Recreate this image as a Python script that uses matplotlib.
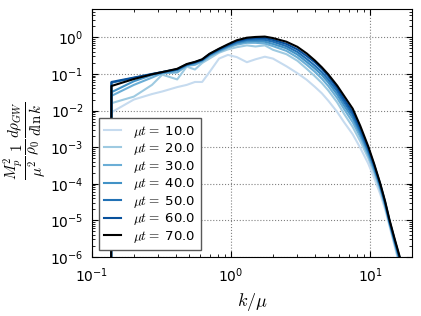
import numpy as np
import matplotlib
matplotlib.use("Agg")
import matplotlib.pyplot as plt

# k/mu sample points (first point duplicated: spectrum starts from zero there)
k = [0.137, 0.138, 0.2, 0.27, 0.32, 0.41, 0.48, 0.55, 0.62, 0.7, 0.82, 0.95, 1.1, 1.3,
     1.5, 1.75, 2.0, 2.5, 3.0, 3.5, 4.0, 4.5, 5.0, 5.8, 6.5, 7.5, 8.5, 9.7, 10.7, 11.8,
     12.8, 13.8, 15.0, 16.4, 18.0]

# log10 of the GW energy spectrum for each time
log_mt10 = [-9, -2.05, -1.70, -1.55, -1.48, -1.36, -1.30, -1.22, -1.22, -0.95, -0.58, -0.48, -0.54, -0.68,
            -0.60, -0.53, -0.58, -0.79, -0.98, -1.16, -1.35, -1.53, -1.73, -2.04, -2.32, -2.65, -3.02,
            -3.45, -3.84, -4.27, -4.69, -5.16, -5.70, -6.28, -6.96]
log_mt20 = [-9, -1.80, -1.62, -1.30, -1.02, -1.15, -0.80, -0.88, -0.70, -0.58, -0.42, -0.33, -0.27, -0.22,
            -0.25, -0.22, -0.34, -0.46, -0.64, -0.86, -1.06, -1.25, -1.45, -1.78, -2.09, -2.45, -2.84,
            -3.30, -3.71, -4.17, -4.62, -5.12, -5.65, -6.22, -6.90]
log_mt30 = [-9, -1.60, -1.30, -1.10, -0.98, -0.96, -0.78, -0.75, -0.66, -0.52, -0.39, -0.28, -0.20, -0.15,
            -0.15, -0.17, -0.24, -0.37, -0.55, -0.75, -0.94, -1.13, -1.33, -1.66, -1.96, -2.32, -2.72,
            -3.22, -3.64, -4.11, -4.58, -5.09, -5.61, -6.16, -6.84]
log_mt40 = [-9, -1.50, -1.20, -1.03, -0.97, -0.90, -0.76, -0.70, -0.63, -0.49, -0.36, -0.25, -0.16, -0.11,
            -0.10, -0.12, -0.18, -0.30, -0.47, -0.67, -0.85, -1.03, -1.23, -1.56, -1.86, -2.21, -2.63,
            -3.14, -3.58, -4.07, -4.55, -5.06, -5.58, -6.12, -6.80]
log_mt50 = [-9, -1.24, -1.11, -1.01, -0.95, -0.88, -0.75, -0.69, -0.62, -0.47, -0.34, -0.23, -0.13, -0.07,
            -0.06, -0.07, -0.12, -0.24, -0.40, -0.59, -0.77, -0.95, -1.15, -1.47, -1.77, -2.12, -2.56,
            -3.09, -3.54, -4.04, -4.52, -5.04, -5.55, -6.08, -6.76]
log_mt60 = [-9, -1.22, -1.10, -1.00, -0.95, -0.87, -0.74, -0.68, -0.61, -0.46, -0.32, -0.21, -0.10, -0.04,
            -0.02, -0.02, -0.07, -0.18, -0.33, -0.51, -0.68, -0.86, -1.06, -1.39, -1.69, -2.04, -2.49,
            -3.03, -3.49, -4.00, -4.49, -5.02, -5.53, -6.05, -6.73]
log_mt70 = [-9, -1.33, -1.14, -1.01, -0.95, -0.86, -0.73, -0.67, -0.60, -0.45, -0.31, -0.19, -0.08, -0.01,
            0.01, 0.02, -0.02, -0.12, -0.26, -0.44, -0.63, -0.82, -1.01, -1.32, -1.60, -1.95, -2.42,
            -2.98, -3.46, -3.98, -4.47, -4.99, -5.50, -6.02, -6.70]

times = [10.0, 20.0, 30.0, 40.0, 50.0, 60.0, 70.0]
series = [log_mt10, log_mt20, log_mt30, log_mt40, log_mt50, log_mt60, log_mt70]
colores = ['#c6dbef', '#9ecae1', '#6baed6', '#4292c6', '#2171b5', '#08519c', 'black']

plt.rcParams['axes.unicode_minus'] = False
plt.rcParams['mathtext.fontset'] = 'cm'

fig = plt.figure(figsize=(4.21, 3.16), dpi=100)
ax = fig.add_axes([0.2185, 0.187, 0.76, 0.785])

for t, s, c in zip(times, series, colores):
    ax.plot(k, np.power(10.0, s), color=c, lw=1.5, label=r'$\mu t=$' + ' %.1f' % t)

ax.set_xscale('log')
ax.set_yscale('log')
ax.set_xlim(0.1, 20)
ax.set_ylim(1e-6, 6)

# etiquetas de los ejes con fuente matematica
ax.set_xlabel(r'$k/\mu$', fontsize=13)
ax.set_ylabel(r'$\frac{M_p^2}{\mu^2}\frac{1}{\rho_0}\frac{d\rho_{GW}}{d\ln k}$', fontsize=15.5)
ax.yaxis.set_label_coords(-0.135, 0.47)

ax.tick_params(which='both', direction='in', top=True, right=True, labelsize=10)
ax.tick_params(which='major', length=4)
ax.tick_params(which='minor', length=2)
ax.tick_params(axis='x', pad=7)
ax.tick_params(axis='y', pad=6)
ax.grid(True, which='major', linestyle=':', color='0.5', lw=0.8)

leg = ax.legend(loc='lower left', fontsize=9.5, handlelength=1.3, handletextpad=0.9,
                labelspacing=0.12, borderaxespad=0.5, fancybox=False, framealpha=1)
leg.get_frame().set_edgecolor('0.35')

fig.savefig('out.png', dpi=100)
